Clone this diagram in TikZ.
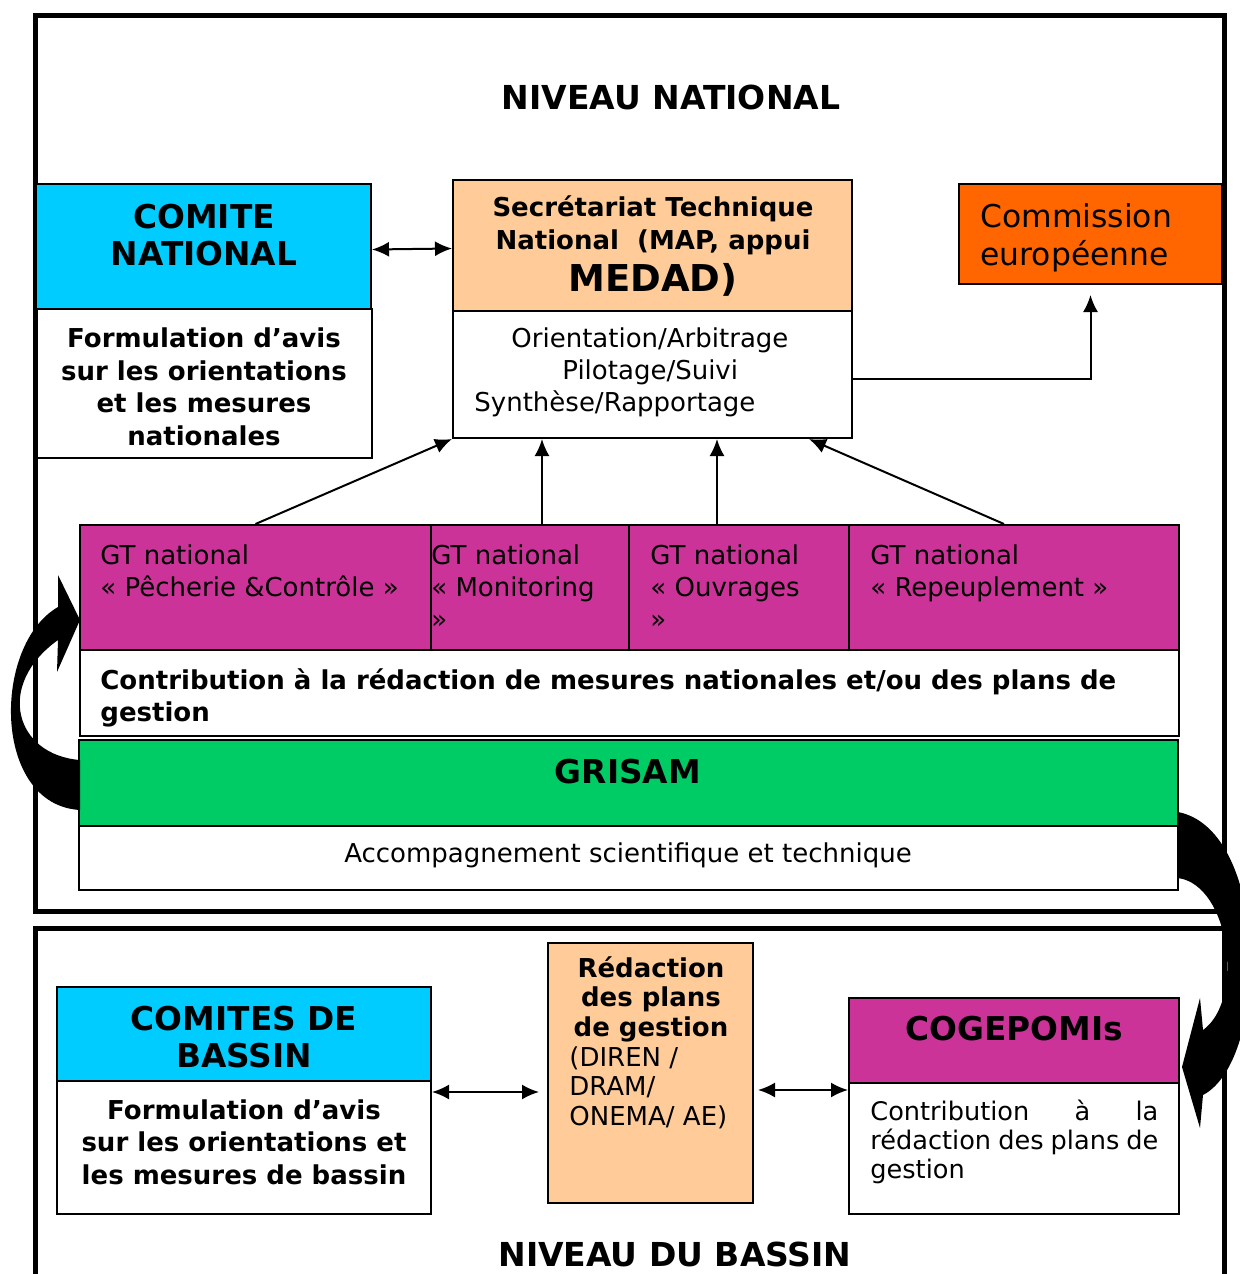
\documentclass[tikz,border=0pt]{standalone}
\usepackage{fontspec}
\setmainfont{DejaVu Sans}
\usetikzlibrary{arrows.meta,fit}

\definecolor{cielC}{RGB}{0,204,255}
\definecolor{pecheC}{RGB}{255,204,153}
\definecolor{orangeC}{RGB}{255,102,0}
\definecolor{violetC}{RGB}{204,51,153}
\definecolor{vertC}{RGB}{0,204,102}

\begin{document}
\begin{tikzpicture}[x=0.5pt,y=-0.5pt,
    box/.style={draw,line width=1pt,inner sep=0pt},
    cadre/.style={draw,line width=2.5pt},
    fleche/.style={line width=1pt,-{Latex[length=8.5pt,width=7.5pt]}},
    dfleche/.style={line width=1pt,{Latex[length=8.5pt,width=7.5pt]}-{Latex[length=8.5pt,width=7.5pt]}},
    titre/.style={font=\fontsize{16.5}{19}\selectfont\bfseries},
    gros/.style={font=\fontsize{16.4}{18.5}\selectfont\bfseries,align=center},
    gras/.style={font=\fontsize{13}{16.3}\selectfont\bfseries,align=center},
    texte/.style={font=\fontsize{13}{16}\selectfont,align=left}]
                \tikzstyle{every node}+=[inner sep=0pt]
                \useasboundingbox (0,0) rectangle (1239,1274);
                % cadres des deux niveaux
                \draw[cadre] (35,15) rectangle (1224,911);
                \draw[cadre] (35,928) rectangle (1224,1320);
                \node[titre] (nivnat) at (671,97) {NIVEAU NATIONAL};
                \node[titre] (nivbas) at (675,1254) {NIVEAU DU BASSIN};
                % niveau national
                \node[box,fill=cielC,fit={(36,184)(371,309)}] (comite) {};
                \node[gros] (comitetxt) at (204,235) {COMITE\\NATIONAL};
                \node[box,fit={(36,309)(372,458)}] (comiteav) {};
                \node[gras] (comiteavtxt) at (204,387) {Formulation d’avis\\sur les orientations\\et les mesures\\nationales};
                \node[box,fill=pecheC,fit={(453,180)(852,311)}] (stn) {};
                \node[gras] (stntxt) at (653,246) {Secrétariat Technique\\National\ \ (MAP, appui\\[3pt]{\fontsize{18.5}{21}\selectfont MEDAD)}};
                \node[box,fit={(453,311)(852,438)}] (stnact) {};
                \node[texte,anchor=west] (stnacttxt) at (474,372) {\hspace*{18.5pt}Orientation/Arbitrage\\\hspace*{44pt}Pilotage/Suivi\\Synthèse/Rapportage};
                \node[box,fill=orangeC,fit={(959,184)(1222,284)}] (comeur) {};
                \node[font=\fontsize{15.7}{19}\selectfont,align=left,anchor=west] (comeurtxt) at (980,238) {Commission\\européenne};
                % groupes de travail
                \node[box,fill=violetC,fit={(80,525)(431,650)}] (gt1) {};
                \node[box,fill=violetC,fit={(431,525)(629,650)}] (gt2) {};
                \node[box,fill=violetC,fit={(629,525)(849,650)}] (gt3) {};
                \node[box,fill=violetC,fit={(849,525)(1179,650)}] (gt4) {};
                \node[texte,anchor=north west] (gt1txt) at (100,544) {GT national\\« Pêcherie \&Contrôle »};
                \node[texte,anchor=north west] (gt2txt) at (431,544) {GT national\\« Monitoring\\»};
                \node[texte,anchor=north west] (gt3txt) at (650,544) {GT national\\« Ouvrages\\»};
                \node[texte,anchor=north west] (gt4txt) at (870,544) {GT national\\« Repeuplement »};
                \node[box,fit={(80,650)(1179,736)}] (contrib) {};
                \node[gras,align=left,anchor=north west] (contribtxt) at (100,668) {Contribution à la rédaction de mesures nationales et/ou des plans de\\gestion};
                \node[box,fill=vertC,fit={(79,740)(1178,826)}] (grisam) {};
                \node[gros] (grisamtxt) at (628,772) {GRISAM};
                \node[box,fit={(79,826)(1178,890)}] (accomp) {};
                \node[texte] (accomptxt) at (628,855) {Accompagnement scientifique et technique};
                % niveau du bassin
                \node[box,fill=cielC,fit={(57,987)(431,1081)}] (comites) {};
                \node[gros] (comitestxt) at (244,1037) {COMITES DE\\BASSIN};
                \node[box,fit={(57,1081)(431,1214)}] (comitesav) {};
                \node[gras] (comitesavtxt) at (244,1142) {Formulation d’avis\\sur les orientations et\\les mesures de bassin};
                \node[box,fill=pecheC,fit={(548,943)(753,1203)}] (redac) {};
                \node[gras,font=\fontsize{13}{14.8}\selectfont\bfseries] (redactxt) at (651,999) {Rédaction\\des plans\\de gestion};
                \node[texte,font=\fontsize{13}{14.8}\selectfont,anchor=north west] (redacorg) at (569,1046) {(DIREN /\\DRAM/\\ONEMA/ AE)};
                \node[box,fill=violetC,fit={(849,998)(1179,1083)}] (cogepomi) {};
                \node[gros] (cogepomitxt) at (1014,1029) {COGEPOMIs};
                \node[box,fit={(849,1083)(1179,1214)}] (cogeav) {};
                \node[font=\fontsize{12.8}{14.5}\selectfont,text width=144pt,align=justify,anchor=north west] (cogeavtxt) at (870,1100) {Contribution à la\linebreak rédaction des plans de\linebreak gestion};
                % liaisons
                \draw[dfleche] ([yshift=-1.5pt]comite.east) -- ([yshift=-1.5pt]stn.west);
                \draw[fleche] ([yshift=-2pt]stnact.east) -| ([yshift=-5pt]comeur.south);
                \draw[fleche] (gt1.north) -- (stnact.south west);
                \draw[fleche] ([xshift=6pt]gt2.north) -- ([xshift=6pt]gt2.north |- stnact.south);
                \draw[fleche] ([xshift=-11pt]gt3.north) -- ([xshift=-11pt]gt3.north |- stnact.south);
                \draw[fleche] ([xshift=-5pt]gt4.north) -- ([xshift=-22pt]stnact.south east);
                \draw[dfleche] ([yshift=-5pt]comites.south east) -- ([shift={(-4pt,-5pt)}]redac.west |- comites.south east);
                \draw[dfleche] ([shift={(2pt,-4pt)}]redac.east |- cogeav.north) -- ([yshift=-4pt]cogeav.north west);
                % grandes fleches courbes
                \fill (80,760) .. controls (15,755) and (-5,685) .. (58,640) -- (57,672) -- (80,620) -- (58,575) -- (58,607) .. controls (-8,645) and (-8,805) .. (80,810) -- cycle;
                \fill (1178,878) .. controls (1230,885) and (1245,1000) .. (1203,1030) -- (1200,998) -- (1182,1067) -- (1200,1128) -- (1203,1095) .. controls (1270,1060) and (1270,830) .. (1178,812) -- cycle;
\end{tikzpicture}
\end{document}
